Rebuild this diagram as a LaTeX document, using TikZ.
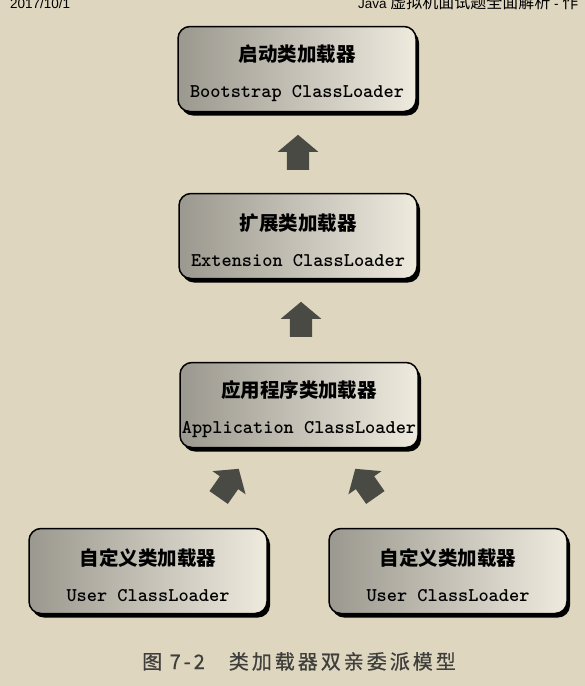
\documentclass[tikz,border=0pt]{standalone}
\usepackage{fontspec}
\setmainfont{Liberation Sans}
\newfontfamily\cjk{Noto Sans CJK SC}
\newfontfamily\capfont[LetterSpace=15,FakeBold=0.6]{Noto Sans CJK SC}
\usetikzlibrary{shapes.arrows,shadows}
\definecolor{page_bg}{RGB}{222,214,190}
\definecolor{box_dark}{RGB}{155,152,143}
\definecolor{box_light}{RGB}{238,234,222}
\definecolor{arrow_gray}{RGB}{74,74,68}
\definecolor{caption_gray}{RGB}{62,62,60}
\newcommand{\cnname}[1]{{\rule{0pt}{25pt}\cjk\bfseries\fontsize{19.5}{22}\selectfont #1}}
\newcommand{\enname}[1]{{\ttfamily\bfseries\fontsize{19.4}{24}\selectfont\addfontfeature{FakeBold=1.2}#1}}
\tikzstyle{loader}=[rectangle,rounded corners=12pt,draw=black,line width=1.5pt,
  left color=box_dark,right color=box_light,minimum width=238pt,minimum height=85pt,
  inner sep=1pt,align=center,
  drop shadow={shadow xshift=3pt,shadow yshift=-4pt,fill=black,opacity=1}]
\tikzstyle{blockarrow}=[single arrow,fill=arrow_gray,draw=none,inner sep=11pt,
  minimum height=35pt,single arrow head extend=9pt,single arrow tip angle=100]

\begin{document}
\begin{tikzpicture}[x=1pt,y=-1pt]
        \fill[page_bg] (0,0) rectangle (585,686);
        \clip (0,0) rectangle (585,686);
        % page header
        \node [anchor=base west,inner sep=0pt,font=\fontsize{13.5}{15}\selectfont] (date) at (10,8) {2017/10/1};
        \node [anchor=base west,inner sep=0pt,font=\fontsize{13.5}{15}\selectfont] (title) at (358,8) {Java {\cjk\fontsize{16}{18}\selectfont 虚拟机面试题全面解析} - {\cjk\fontsize{16}{18}\selectfont 作}};
        % loaders
        \node [style=loader] (boot) at (297,69) {\cnname{启动类加载器}\\[21pt]\enname{Bootstrap ClassLoader}};
        \node [style=loader] (ext) at (298,236) {\cnname{扩展类加载器}\\[21pt]\enname{Extension ClassLoader}};
        \node [style=loader] (app) at (299,405) {\cnname{应用程序类加载器}\\[21pt]\enname{Application ClassLoader}};
        \node [style=loader] (user1) at (148,571) {\cnname{自定义类加载器}\\[21pt]\enname{User ClassLoader}};
        \node [style=loader] (user2) at (448,571) {\cnname{自定义类加载器}\\[21pt]\enname{User ClassLoader}};
        % delegation arrows
        \node [style=blockarrow,rotate=90] (up1) at (298,157) {};
        \node [style=blockarrow,rotate=90] (up2) at (301,324) {};
        \node [style=blockarrow,rotate=55] (up3) at (226,487) {};
        \node [style=blockarrow,rotate=125] (up4) at (368,487) {};
        % caption
        \node [anchor=base west,inner sep=0pt,text=caption_gray,font=\capfont\fontsize{20}{24}\selectfont] (cap) at (142,669) {图 7-2\hspace{24pt}类加载器双亲委派模型};
    \end{tikzpicture}
\end{document}
